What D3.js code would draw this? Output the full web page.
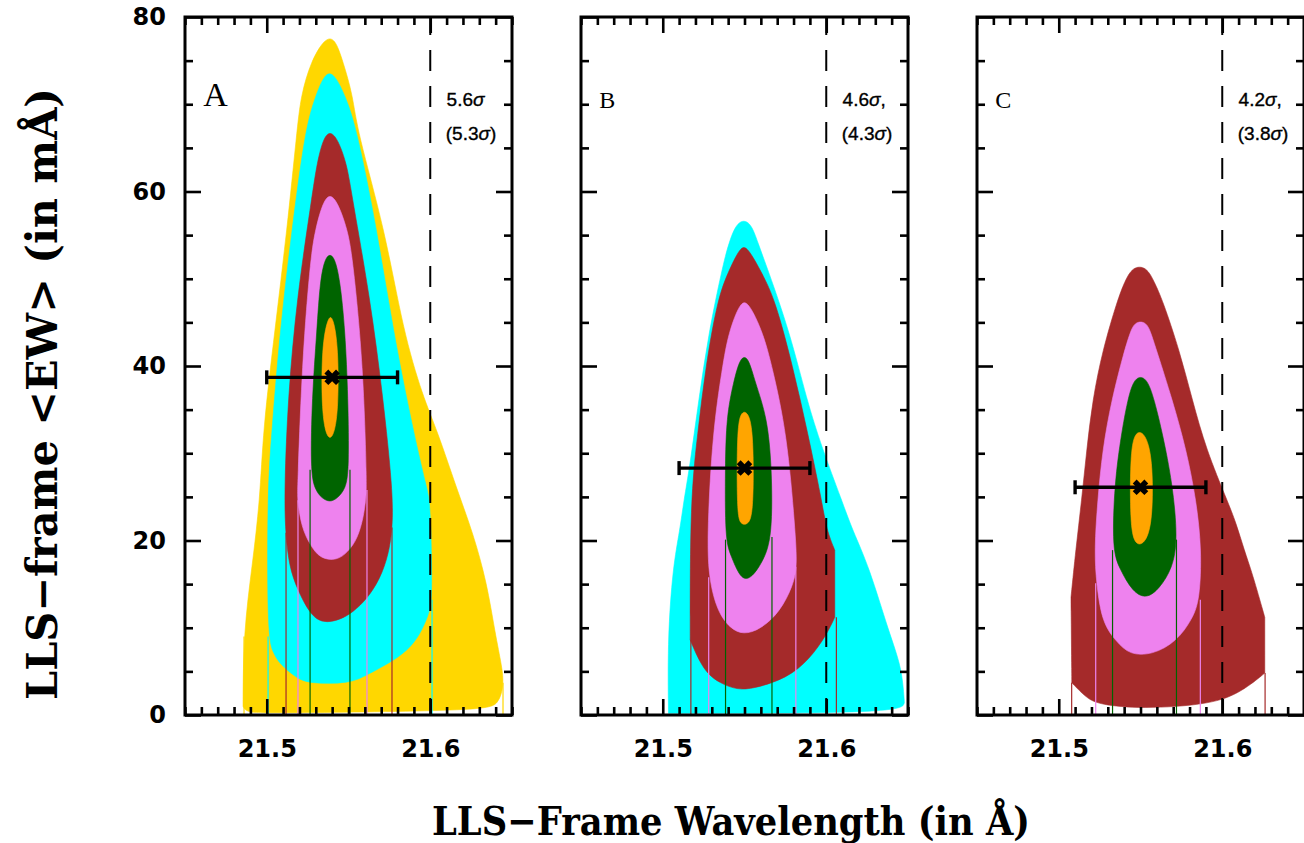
<!DOCTYPE html>
<html><head><meta charset="utf-8">
<script src="https://cdn.jsdelivr.net/npm/d3@7"></script>
<style>html,body{margin:0;padding:0;background:#fff;overflow:hidden}</style>
</head><body><svg id="c" width="1304" height="843"></svg>
<script>
// ---------------- data ----------------
const panelNames = ["A", "B", "C"];
const sigmaMain = ["5.6σ", "4.6σ,", "4.2σ,"];
const sigmaAlt = ["(5.3σ)", "(4.3σ)", "(3.8σ)"];
const waveDomain = [21.45, 21.65];
const ewDomain = [0, 80];
const waveMajorTicks = [21.5, 21.6];
const ewMajorTicks = [0, 20, 40, 60, 80];
const ewMinorTicks = [5, 10, 15, 25, 30, 35, 45, 50, 55, 65, 70, 75];
const threshold = 21.6;

const bestWave = [21.540, 21.550, 21.550];
const bestEW = [38.7, 28.3, 26.1];
const waveErr = [0.040, 0.040, 0.040];

// confidence regions, [wavelength (Å), EW (mÅ), sharp-corner flag]
const goldA = [[21.5356,77.6],[21.5417,77.6],[21.5466,74.9],[21.5527,71.0],[21.5552,67.0],[21.5723,55.6],[21.5833,44.1],[21.5956,36.4],[21.6041,32.7],[21.6164,25.8],[21.6261,20.9],[21.6347,15.1],[21.6396,9.4],[21.6439,5.5],[21.6450,3.5],[21.6420,1.2],[21.6323,0.5],[21.5000,0.2],[21.4875,0.3],[21.4855,1.0,1],[21.4858,9.4],[21.4910,17.0],[21.4959,24.6],[21.4977,32.7],[21.5050,44.1],[21.5124,55.6],[21.5185,67.0],[21.5209,71.0],[21.5270,74.9]];
const cyanA = [[21.5356,73.6],[21.5411,73.6],[21.5485,70.8],[21.5552,67.0],[21.5674,55.6],[21.5772,44.1],[21.5894,32.7],[21.5980,25.8],[21.6000,24.6],[21.6015,13.2],[21.5990,11.5],[21.5937,9.2],[21.5858,7.3],[21.5735,5.8],[21.5613,4.6],[21.5509,3.6],[21.5265,3.6],[21.5185,4.2],[21.5081,5.8],[21.5040,7.1],[21.5004,9.0],[21.5004,25.8],[21.5032,32.7],[21.5081,44.1],[21.5154,55.6],[21.5234,67.0],[21.5295,70.8]];
const brownA = [[21.5356,66.8],[21.5417,66.8],[21.5490,63.3],[21.5521,59.4],[21.5631,47.9],[21.5711,36.4],[21.5770,25.8],[21.5770,21.5],[21.5745,18.4],[21.5693,15.6],[21.5613,13.3],[21.5528,11.8],[21.5448,10.9],[21.5344,10.5],[21.5265,11.5],[21.5185,14.5],[21.5138,17.0],[21.5114,20.9],[21.5108,25.8],[21.5130,36.4],[21.5185,47.9],[21.5277,59.4],[21.5307,63.3]];
const violetA = [[21.5356,59.6],[21.5417,59.6],[21.5497,55.6],[21.5528,51.8],[21.5589,40.3],[21.5613,25.8],[21.5604,24.6],[21.5592,22.7],[21.5555,20.2],[21.5497,18.7],[21.5430,17.7],[21.5326,17.9],[21.5265,19.5],[21.5213,21.5],[21.5188,24.6],[21.5188,25.8],[21.5216,40.3],[21.5265,51.8],[21.5295,55.6]];
const greenA = [[21.5362,52.8],[21.5411,52.8],[21.5448,49.9],[21.5479,44.1],[21.5497,36.4],[21.5503,28.1],[21.5482,25.9],[21.5430,24.8],[21.5387,24.4],[21.5338,24.8],[21.5292,25.9],[21.5268,28.1],[21.5277,36.4],[21.5307,44.1],[21.5326,49.9]];
const orangeA = [[21.5375,45.7],[21.5405,45.7],[21.5438,42.2],[21.5438,34.6],[21.5405,31.7],[21.5368,31.7],[21.5336,34.6],[21.5336,42.2]];

const cyanB = [[21.5456,56.7],[21.5535,56.7],[21.5584,54.0],[21.5638,51.3],[21.5778,43.8],[21.5881,36.1],[21.5972,30.7],[21.6095,24.6],[21.6160,21.2],[21.6262,17.0],[21.6384,9.4],[21.6462,5.5],[21.6478,1.4,1],[21.6450,0.2],[21.5035,0.2,1],[21.5030,8.6],[21.5062,17.0],[21.5105,21.2],[21.5129,24.6],[21.5165,28.4],[21.5220,36.1],[21.5281,43.8],[21.5365,51.3],[21.5402,54.0]];
const brownB = [[21.5475,53.7],[21.5517,53.7],[21.5608,50.6],[21.5687,47.6],[21.5796,39.9],[21.5887,32.3],[21.5972,24.6],[21.6002,21.2],[21.6052,18.9,1],[21.6052,11.2,1],[21.6002,9.2],[21.5899,6.4],[21.5759,4.2],[21.5553,3.0],[21.5456,2.9],[21.5353,3.6],[21.5250,5.0],[21.5168,8.6,1],[21.5168,24.6],[21.5214,32.3],[21.5262,39.9],[21.5335,47.6],[21.5396,50.6]];
const violetB = [[21.5475,47.4],[21.5523,47.4],[21.5614,43.8],[21.5669,39.9],[21.5759,32.3],[21.5810,21.2],[21.5822,17.0],[21.5798,14.9],[21.5717,11.8],[21.5596,9.8],[21.5493,9.2],[21.5414,9.9],[21.5335,11.8],[21.5279,15.8],[21.5273,21.2],[21.5305,32.3],[21.5365,39.9],[21.5402,43.8]];
const greenB = [[21.5475,41.1],[21.5523,41.1],[21.5565,38.1],[21.5638,34.2],[21.5667,28.4],[21.5670,20.4],[21.5614,17.6],[21.5535,15.5],[21.5475,15.6],[21.5414,18.4],[21.5382,20.1],[21.5382,28.4],[21.5390,34.2],[21.5432,38.1]];
const orangeB = [[21.5475,34.8],[21.5523,34.8],[21.5555,32.3],[21.5555,23.2],[21.5523,21.8],[21.5475,21.8],[21.5454,23.2],[21.5454,32.3]];

const brownC = [[21.5451,51.4],[21.5537,51.4],[21.5585,49.6],[21.5634,47.6],[21.5738,41.8],[21.5817,36.1],[21.5902,30.4],[21.6030,24.6],[21.6085,22.0],[21.6134,18.9],[21.6183,16.3],[21.6260,11.2,1],[21.6260,4.8,1],[21.6122,2.7],[21.5939,1.2],[21.5500,0.7],[21.5250,1.2],[21.5171,1.9],[21.5080,3.7,1],[21.5075,13.5,1],[21.5104,18.9],[21.5140,24.6],[21.5171,30.4],[21.5207,36.1],[21.5268,41.8],[21.5360,47.6],[21.5402,49.6]];
const violetC = [[21.5463,45.1],[21.5537,45.1],[21.5567,43.6],[21.5598,41.8],[21.5695,36.1],[21.5780,30.4],[21.5841,24.6],[21.5874,18.9],[21.5862,13.2],[21.5817,11.0],[21.5720,8.4],[21.5573,6.9],[21.5433,6.9],[21.5354,8.4],[21.5266,10.5],[21.5230,15.1],[21.5218,18.9],[21.5238,24.6],[21.5268,30.4],[21.5323,36.1],[21.5402,41.8],[21.5433,43.6]];
const greenC = [[21.5463,38.8],[21.5537,38.8],[21.5585,36.1],[21.5634,32.3],[21.5695,26.6],[21.5728,20.1],[21.5695,16.8],[21.5616,14.5],[21.5537,13.3],[21.5451,14.1],[21.5372,16.8],[21.5327,18.9],[21.5341,26.6],[21.5384,32.3],[21.5421,36.1]];
const orangeC = [[21.5463,32.5],[21.5524,32.5],[21.5575,29.6],[21.5575,22.0],[21.5524,19.5],[21.5463,19.5],[21.5437,22.0],[21.5437,29.6]];

// projected interval edges: [level, wavelength, top EW]
const intervalsA = [["gold",21.4861,9.0],["gold",21.6445,3.7],["cyan",21.5008,9.0],["cyan",21.6011,13.2],["brown",21.5118,20.9],["brown",21.5766,21.5],["violet",21.5191,24.6],["violet",21.5613,25.8],["green",21.5265,28.1],["green",21.5509,28.1]];
const intervalsB = [["brown",21.5172,8.6],["brown",21.6062,11.2],["violet",21.5281,15.8],["violet",21.5814,17.0],["green",21.5384,20.1],["green",21.5668,20.4]];
const intervalsC = [["brown",21.5079,3.7],["brown",21.6262,4.8],["violet",21.5226,15.1],["violet",21.5866,13.2],["green",21.5329,18.9],["green",21.5720,20.1]];

// ---------------- drawing ----------------
const colors = {gold:"#FFD700", cyan:"#00FFFF", brown:"#A52A2A", violet:"#EE82EE", green:"#006400", orange:"#FFA500"};
const panels = [
  {contours:[["gold",goldA],["cyan",cyanA],["brown",brownA],["violet",violetA],["green",greenA],["orange",orangeA]], lines:intervalsA},
  {contours:[["cyan",cyanB],["brown",brownB],["violet",violetB],["green",greenB],["orange",orangeB]], lines:intervalsB},
  {contours:[["brown",brownC],["violet",violetC],["green",greenC],["orange",orangeC]], lines:intervalsC}
];

const svg = d3.select("#c");
const TOP = 17, BOT = 715, PW = 327;
const lefts = [185, 581, 977];
const y = d3.scaleLinear().domain(ewDomain).range([BOT, TOP]);
const waveMinor = d3.range(0, 21).filter(i => i % 10 !== 5).map(i => +(waveDomain[0] + i * 0.01).toFixed(2));
const tickFont = "'DejaVu Sans', sans-serif";
const titleFont = "'DejaVu Serif', 'Liberation Serif', serif";

// corner points are repeated so that the B-spline passes through them
const expandCorners = pts => pts.flatMap(d => d[2] ? [d, d, d] : [d]);

function styleAxis(g, showText) {
  g.select(".domain").remove();
  g.selectAll(".tick line").attr("stroke", "#000").attr("stroke-width", 2.6);
  g.attr("font-family", tickFont).attr("font-size", 24).attr("font-weight", "bold");
  g.selectAll(".tick text").attr("fill", "#000");
  if (!showText) g.selectAll(".tick text").remove();
}

function sigmaText(g, xp, yp, str) {
  const t = g.append("text").attr("x", xp).attr("y", yp)
    .attr("font-family", "'Liberation Sans', Arial, sans-serif").attr("font-size", 19)
    .attr("fill", "#000").attr("stroke", "#000").attr("stroke-width", 0.35);
  const parts = str.split("σ");
  t.append("tspan").text(parts[0]);
  t.append("tspan").attr("font-style", "italic").text("σ");
  if (parts[1]) t.append("tspan").text(parts[1]);
}

panels.forEach((p, i) => {
  const x = d3.scaleLinear().domain(waveDomain).range([lefts[i], lefts[i] + PW]);
  const g = svg.append("g");
  const clipId = "clip" + i;
  svg.append("clipPath").attr("id", clipId).append("rect")
    .attr("x", lefts[i]).attr("y", TOP).attr("width", PW).attr("height", BOT - TOP);
  const gc = g.append("g").attr("clip-path", `url(#${clipId})`);
  const line = d3.line().x(d => x(d[0])).y(d => y(d[1])).curve(d3.curveBasisClosed);

  p.contours.forEach(([k, pts]) => {
    gc.append("path").attr("d", line(expandCorners(pts))).attr("fill", colors[k])
      .attr("stroke", colors[k]).attr("stroke-width", 0.6);
  });
  p.lines.forEach(([k, w, top]) => {
    gc.append("line").attr("x1", x(w)).attr("x2", x(w)).attr("y1", y(top)).attr("y2", y(0))
      .attr("stroke", colors[k]).attr("stroke-width", 1.2);
  });

  // threshold dashed line
  gc.append("line").attr("x1", x(threshold)).attr("x2", x(threshold)).attr("y1", y(80)).attr("y2", y(0))
    .attr("stroke", "#000").attr("stroke-width", 2).attr("stroke-dasharray", "21,15").attr("stroke-dashoffset", 3);

  // best fit with error bar
  const yb = y(bestEW[i]);
  const x0 = x(bestWave[i] - waveErr[i]), x1 = x(bestWave[i] + waveErr[i]);
  g.append("line").attr("x1", x0).attr("x2", x1).attr("y1", yb).attr("y2", yb).attr("stroke", "#000").attr("stroke-width", 3.4);
  [x0, x1].forEach(xx => g.append("line").attr("x1", xx).attr("x2", xx).attr("y1", yb - 7).attr("y2", yb + 7)
    .attr("stroke", "#000").attr("stroke-width", 3.4));
  g.append("path").attr("d", d3.symbol(d3.symbolCross, 150)())
    .attr("transform", `translate(${x(bestWave[i])},${yb}) rotate(45)`).attr("fill", "#000");

  // axes (inward ticks)
  const gb = g.append("g").attr("transform", `translate(0,${BOT})`)
    .call(d3.axisBottom(x).tickValues(waveMajorTicks).tickSize(-16).tickPadding(25).tickFormat(d3.format(".1f")));
  styleAxis(gb, true);
  styleAxis(g.append("g").attr("transform", `translate(0,${BOT})`)
    .call(d3.axisBottom(x).tickValues(waveMinor).tickSize(-8).tickFormat("")), false);
  styleAxis(g.append("g").attr("transform", `translate(0,${TOP})`)
    .call(d3.axisTop(x).tickValues(waveMajorTicks).tickSize(-16).tickFormat("")), false);
  styleAxis(g.append("g").attr("transform", `translate(0,${TOP})`)
    .call(d3.axisTop(x).tickValues(waveMinor).tickSize(-8).tickFormat("")), false);
  const gl = g.append("g").attr("transform", `translate(${lefts[i]},0)`)
    .call(d3.axisLeft(y).tickValues(ewMajorTicks).tickSize(-16).tickPadding(19).tickFormat(d3.format("d")));
  styleAxis(gl, i === 0);
  styleAxis(g.append("g").attr("transform", `translate(${lefts[i]},0)`)
    .call(d3.axisLeft(y).tickValues(ewMinorTicks).tickSize(-8).tickFormat("")), false);
  styleAxis(g.append("g").attr("transform", `translate(${lefts[i] + PW},0)`)
    .call(d3.axisRight(y).tickValues(ewMajorTicks).tickSize(-16).tickFormat("")), false);
  styleAxis(g.append("g").attr("transform", `translate(${lefts[i] + PW},0)`)
    .call(d3.axisRight(y).tickValues(ewMinorTicks).tickSize(-8).tickFormat("")), false);

  // frame
  g.append("rect").attr("x", lefts[i]).attr("y", TOP).attr("width", PW).attr("height", BOT - TOP)
    .attr("fill", "none").attr("stroke", "#000").attr("stroke-width", 3);

  // labels
  g.append("text").attr("x", x(21.4612)).attr("y", i === 0 ? 106 : 108)
    .attr("font-family", "'Liberation Serif', 'Times New Roman', serif")
    .attr("font-size", i === 0 ? 34 : 24).attr("fill", "#000").text(panelNames[i]);
  sigmaText(g, x(21.6100), 106, sigmaMain[i]);
  sigmaText(g, x(21.6095), 140, sigmaAlt[i]);
});

// axis titles
svg.append("text").attr("x", 731).attr("y", 835).attr("text-anchor", "middle")
  .attr("font-family", titleFont).attr("font-weight", "bold")
  .attr("font-size", 40).attr("textLength", 598).attr("lengthAdjust", "spacingAndGlyphs")
  .attr("fill", "#000").text("LLS\u2212Frame Wavelength (in Å)");
svg.append("text").attr("transform", "translate(57,394) rotate(-90)").attr("text-anchor", "middle")
  .attr("font-family", titleFont).attr("font-weight", "bold")
  .attr("font-size", 42).attr("textLength", 612).attr("lengthAdjust", "spacingAndGlyphs")
  .attr("fill", "#000").text("LLS\u2212frame <EW> (in mÅ)");
</script>
</body></html>
